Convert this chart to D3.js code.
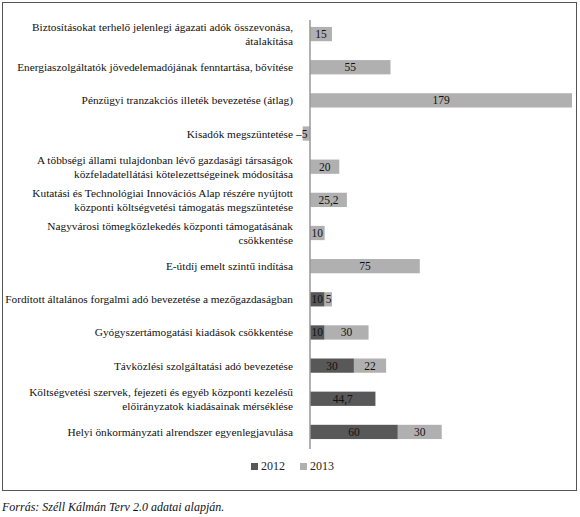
<!DOCTYPE html>
<html><head><meta charset="utf-8">
<script src="https://cdn.jsdelivr.net/npm/d3@7"></script>
<style>body{margin:0;background:#fff}</style>
</head><body><svg id="c" width="580" height="517" font-family="Liberation Serif, DejaVu Serif, serif"></svg>
<script>
// categories (each may span two lines)
var categories = [
  ["Biztosításokat terhelő jelenlegi ágazati adók összevonása,", "átalakítása"],
  ["Energiaszolgáltatók jövedelemadójának fenntartása, bővítése"],
  ["Pénzügyi tranzakciós illeték bevezetése (átlag)"],
  ["Kisadók megszüntetése"],
  ["A többségi állami tulajdonban lévő gazdasági társaságok", "közfeladatellátási kötelezettségeinek módosítása"],
  ["Kutatási és Technológiai Innovációs Alap részére nyújtott", "központi költségvetési támogatás megszüntetése"],
  ["Nagyvárosi tömegközlekedés központi támogatásának", "csökkentése"],
  ["E-útdíj emelt szintű indítása"],
  ["Fordított általános forgalmi adó bevezetése a mezőgazdaságban"],
  ["Gyógyszertámogatási kiadások csökkentése"],
  ["Távközlési szolgáltatási adó bevezetése"],
  ["Költségvetési szervek, fejezeti és egyéb központi kezelésű", "előirányzatok kiadásainak mérséklése"],
  ["Helyi önkormányzati alrendszer egyenlegjavulása"]
];
var values2012 = [0, 0, 0, 0, 0, 0, 0, 0, 10, 10, 30, 44.7, 60];
var values2013 = [15, 55, 179, -5, 20, 25.2, 10, 75, 5, 30, 22, 0, 30];
var seriesNames = ["2012", "2013"];
var seriesColors = ["#585858", "#b0b0b0"];

var svg = d3.select("#c");
svg.append("rect").attr("x", 2.5).attr("y", 2.5).attr("width", 574).attr("height", 488)
  .attr("fill", "none").attr("stroke", "#555").attr("stroke-width", 1);

var x = d3.scaleLinear().domain([0, 179]).range([310, 572]);
var y = d3.scaleBand().domain(d3.range(categories.length)).range([17, 449]).paddingInner(0.57).paddingOuter(0.3);

var fmt = function(v){ return String(v).replace(".", ",").replace("-", "–"); };

var rows = svg.selectAll("g.row").data(categories).enter().append("g").attr("class", "row");
rows.each(function(lines, i) {
  var g = d3.select(this), cy = y(i) + y.bandwidth() / 2;
  lines.forEach(function(l, k) {
    g.append("text").attr("x", 293).attr("y", cy + (k - (lines.length - 1) / 2) * 14 + 4)
      .attr("text-anchor", "end").attr("font-size", 11.3).attr("fill", "#111").text(l);
  });
  var a = values2012[i], b = values2013[i];
  var segs = [];
  if (a) segs.push({s: 0, v: a, c: seriesColors[0]});
  if (b) segs.push({s: a, v: b, c: seriesColors[1]});
  segs.forEach(function(sg) {
    var x0 = x(Math.min(sg.s, sg.s + sg.v)), x1 = x(Math.max(sg.s, sg.s + sg.v));
    g.append("rect").attr("x", x0).attr("y", y(i)).attr("width", x1 - x0).attr("height", y.bandwidth()).attr("fill", sg.c);
    var narrow = sg.v > 0 && x1 - x0 < 14;
    g.append("text").attr("x", sg.v < 0 ? x0 - 1 : (narrow ? x0 + 1 : (x0 + x1) / 2))
      .attr("y", cy + 4).attr("text-anchor", narrow ? "start" : "middle")
      .attr("font-size", 11.5).attr("fill", "#111").text(fmt(sg.v));
  });
});

svg.append("line").attr("x1", x(0)).attr("x2", x(0)).attr("y1", 20).attr("y2", 449)
  .attr("stroke", "#999").attr("stroke-width", 1.5);

var leg = svg.append("g").attr("transform", "translate(251,470)");
seriesNames.forEach(function(n, k) {
  leg.append("rect").attr("x", k * 49).attr("y", -7).attr("width", 7).attr("height", 7).attr("fill", seriesColors[k]);
  leg.append("text").attr("x", k * 49 + 10).attr("y", 0).attr("font-size", 12).attr("fill", "#222").text(n);
});

svg.append("text").attr("x", 2).attr("y", 511).attr("font-size", 12).attr("font-style", "italic")
  .attr("fill", "#111").text("Forrás: Széll Kálmán Terv 2.0 adatai alapján.");
</script></body></html>
